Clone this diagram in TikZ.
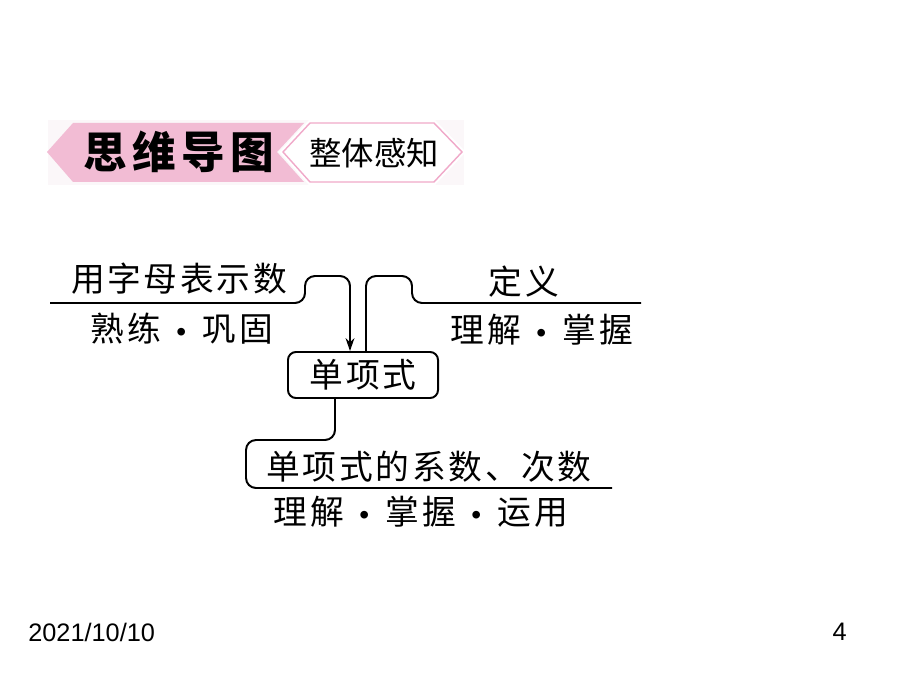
\documentclass[tikz,border=0pt]{standalone}
\usepackage{fontspec}
\setmainfont{Liberation Sans}
\newfontfamily\cjk{Noto Sans CJK SC}
\newfontfamily\cjkwide[LetterSpace=8]{Noto Sans CJK SC}
\newfontfamily\cjktitle[LetterSpace=12]{Noto Sans CJK SC}
\usetikzlibrary{arrows.meta, positioning}
\definecolor{bannerpink}{HTML}{F2BCD4}
\definecolor{edgepink}{HTML}{F0A9C9}
\definecolor{paleback}{HTML}{FBF7F9}
\newcommand\middot{\hspace{0.38cm}{\normalfont\fontsize{20}{20}\selectfont •}\hspace{0.42cm}}

\begin{document}
\begin{tikzpicture}[
      x=0.025cm, y=-0.025cm,
      conn/.style={line width=1.4pt, rounded corners=0.25cm},
      txt/.style={font=\cjkwide\fontsize{24}{28}\selectfont, inner sep=0pt},
      box/.style={draw, line width=1.4pt, rounded corners=0.2cm, minimum width=3.75cm, minimum height=1.15cm, font=\cjkwide\fontsize{24}{28}\selectfont},
      foot/.style={font=\fontsize{18}{20}\selectfont, inner sep=0pt}
    ]
    \fill[white] (0,0) rectangle (900,675);
    \useasboundingbox (0,0) rectangle (900,675);

    % banner
    \fill[paleback] (48,120) rectangle (464,185);
    \fill[bannerpink] (47,152) -- (73,123) -- (304,123) -- (277,152) -- (304,182) -- (73,182) -- cycle;
    \draw[white, line width=4pt, fill=white] (283,152) -- (310,123) -- (434,123) -- (462,152) -- (434,182) -- (310,182) -- cycle;
    \draw[edgepink, line width=1pt] (283,152) -- (310,123) -- (434,123) -- (462,152) -- (434,182) -- (310,182) -- cycle;
    \node[inner sep=0pt, font=\cjktitle\bfseries\fontsize{31}{36}\selectfont] (title) at (179,152) {思维导图};
    \node[inner sep=0pt, font=\cjk\fontsize{23}{28}\selectfont] (subtitle) at (374,153) {整体感知};

    % branches
    \node[txt] (letters) at (179,279) {用字母表示数};
    \node[txt] (letterstip) at (182,329) {熟练\middot 巩固};
    \node[txt] (defn) at (524,282) {定义};
    \node[txt] (defntip) at (542,330) {理解\middot 掌握};
    \node[box] (mono) at (363,375) {单项式};
    \node[txt] (coef) at (429,467) {单项式的系数、次数};
    \node[txt] (coeftip) at (421,512) {理解\middot 掌握\middot 运用};

    \coordinate (lstart) at (50,303);
    \coordinate (rend) at (641,303);
    \coordinate (bend) at (612,488);

    \draw[conn, -{Stealth[length=3.2mm, width=2.2mm]}] (lstart) -- (305,303) -- (305,276) -- (350,276) -- (350,276 |- mono.north);
    \draw[conn] (366,276 |- mono.north) -- (366,276) -- (412,276) -- (412,303) -- (rend);
    \draw[conn] (335,398 |- mono.south) -- (335,440) -- (246,440) -- (246,488) -- (bend);

    % footer
    \node[foot, anchor=west] (date) at (28,632) {2021/10/10};
    \node[foot, anchor=east] (page) at (847,632) {4};
  \end{tikzpicture}
\end{document}
